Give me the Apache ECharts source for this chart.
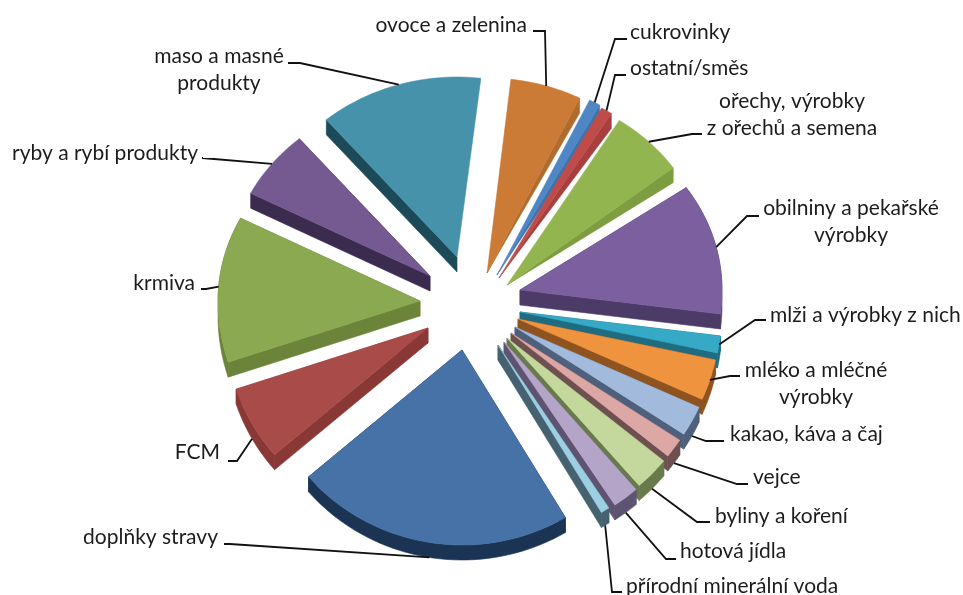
<!DOCTYPE html>
<html>
<head>
<meta charset="utf-8">
<style>html,body{margin:0;padding:0;background:#fff}#c{width:963px;height:595px}</style>
<script src="https://cdn.jsdelivr.net/npm/echarts@6/dist/echarts.min.js"></script>
</head>
<body>
<div id="c"></div>
<script>
// ---- data (share of notifications, %, clockwise from the top)
const categories = ['ovoce a zelenina','cukrovinky','ostatní/směs','ořechy, výrobky\nz ořechů a semena','obilniny a pekařské\nvýrobky','mlži a výrobky z nich','mléko a mléčné\nvýrobky','kakao, káva a čaj','vejce','byliny a koření','hotová jídla','přírodní minerální voda','doplňky stravy','FCM','krmiva','ryby a rybí produkty','maso a masné\nprodukty'];
const shares = [5.7,0.9,0.9,6.0,11.6,1.4,3.4,2.5,1.6,2.8,2.1,0.7,22.3,6.2,12.7,6.2,13.1];
// ---- styles
const topColors = ['#CB7B36','#4F87C6','#C04C4A','#93B54F','#7C5F9F','#35A9C5','#F0933F','#A2BADB','#DCA7A5','#C4D79C','#B4A4C8','#9CCFE2','#4672A7','#A94C49','#8AA951','#755A92','#4592AA'];
const wallColors = ['#B06C2E','#3F73AD','#A83F3D','#7E9C40','#4C3A67','#1F6B80','#8F5320','#4E607B','#6F5051','#687A4B','#5E5471','#46616F','#1B3454','#8A3836','#6B8439','#3A2B4F','#1D4A58'];
// ---- pie geometry
const center = [470, 297], radX = 202, radBack = 180, radFront = 195, depth = 15, startDeg = 6.8, flatUntilDeg = 60;
const explode = [[17,-39],[27,-37],[29,-34],[37,-27],[50,-7],[50,15],[48,22],[45,30],[41,36],[37,41],[34,45],[28,48],[-8,53],[-42,31],[-50,4],[-40,-21],[-13,-40]];
// ---- label layout: text anchor [x, y, align], then leader bend and leader end
const labelAnchor = [[527,25,'right'],[630,32,'left'],[630,68,'left'],[792,115,'center'],[851,222,'center'],[770,315,'left'],[816,384,'center'],[730,434,'left'],[753,477,'left'],[715,516,'left'],[680,551,'left'],[626,586,'left'],[218,537,'right'],[220,452,'right'],[195,283,'right'],[198,153,'right'],[219,70,'center']];
const leaderBend = [[545,31],[615,39],[615,75],[692,134],[747,216],[755,320],[730,376],[706,441],[737,484],[697,522],[666,559],[612,592],[230,544],[237,461],[206,289],[202,158],[300,63]];
const leaderEnd = [[533,31],[627,39],[626,75],[702,134],[759,216],[766,320],[740,376],[724,441],[748,484],[710,522],[676,559],[622,592],[224,544],[228,461],[201,289],[203,158],[288,63]];

const total = shares.reduce((a, b) => a + b, 0);
const spans = [];
shares.reduce((acc, v) => { const s = v / total * 360; spans.push([acc, acc + s]); return acc + s; }, startDeg);
const mids = spans.map(s => (s[0] + s[1]) / 2);
function rimPoint(i, deg) {
  const t = deg * Math.PI / 180, c = Math.cos(t), ry = c >= 0 ? radBack : radFront;
  return [center[0] + explode[i][0] + radX * Math.sin(t), center[1] + explode[i][1] - ry * c];
}
const order = mids.map((m, i) => [Math.cos(m * Math.PI / 180), i]).sort((a, b) => b[0] - a[0]).map(x => x[1]);
const rank = []; order.forEach((idx, r) => rank[idx] = r);
const lower = p => [p[0], p[1] + depth];

function renderSlice(params) {
  const i = params.dataIndex, [a, b] = spans[i];
  const apex = [center[0] + explode[i][0], center[1] + explode[i][1]];
  const rim = [];
  const n = Math.max(3, Math.ceil((b - a) / 2));
  for (let k = 0; k <= n; k++) rim.push(rimPoint(i, a + (b - a) * k / n));
  const base = rank[i] * 10;
  const wall = pts => ({ type: 'polygon', z2: base, shape: { points: pts }, style: { fill: wallColors[i], stroke: wallColors[i], lineWidth: 0.6 } });
  const flat = b <= flatUntilDeg;              // upper-right slices: the radial wall is out of sight
  const children = [];
  if (a < 270 && b > 90) children.push(wall(rim.concat(rim.slice().reverse().map(lower))));
  if (flat) {
    children.push(wall([lower(apex), rim[n], lower(rim[n])]));
  } else {
    children.push(wall([apex, rim[0], lower(rim[0]), lower(apex)]));
    if (b <= 360) children.push(wall([apex, rim[n], lower(rim[n]), lower(apex)]));
  }
  children.push({ type: 'polygon', z2: base + 1, shape: { points: [flat ? lower(apex) : apex].concat(rim) }, style: { fill: topColors[i], stroke: topColors[i], lineWidth: 0.5 } });
  return { type: 'group', children };
}

const graphics = [];
categories.forEach((name, i) => {
  const m = rimPoint(i, mids[i]);
  if (Math.cos(mids[i] * Math.PI / 180) < -0.35) m[1] += depth;
  graphics.push({ type: 'polyline', silent: true, z: 5, shape: { points: [m, leaderBend[i], leaderEnd[i]] }, style: { stroke: '#111', lineWidth: 1.8, fill: null } });
  const an = labelAnchor[i];
  graphics.push({ type: 'text', silent: true, z: 6, x: an[0], y: an[1], style: { text: name, font: '21px Lato', fill: '#1c1c1c', align: an[2], verticalAlign: 'middle', lineHeight: 27 } });
});

const chart = echarts.init(document.getElementById('c'), null, { renderer: 'canvas' });
chart.setOption({
  animation: false,
  backgroundColor: '#fff',
  series: [{ type: 'custom', coordinateSystem: 'none', silent: true, renderItem: renderSlice, data: shares.map(v => [v]) }],
  graphic: graphics
});
</script>
</body>
</html>
